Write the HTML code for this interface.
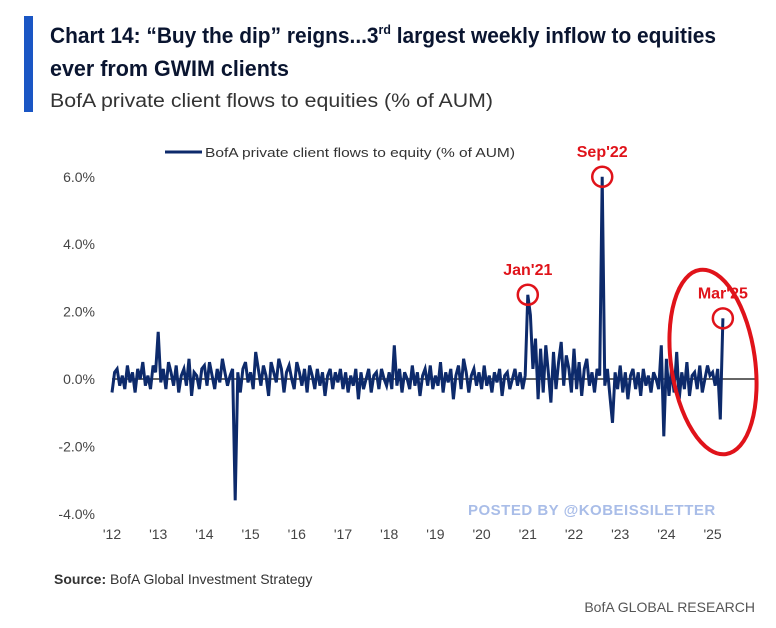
<!DOCTYPE html>
<html><head><meta charset="utf-8">
<style>
body{margin:0;background:#fff;width:776px;height:623px;overflow:hidden;font-family:"Liberation Sans",sans-serif}
</style></head><body>
<svg width="776" height="623" viewBox="0 0 776 623" xmlns="http://www.w3.org/2000/svg">
<rect x="24" y="16" width="9" height="96" fill="#1a56c4"/>
<text x="50" y="43" font-size="22" font-weight="bold" fill="#0a1530" textLength="666" lengthAdjust="spacingAndGlyphs">Chart 14: “Buy the dip” reigns...3<tspan font-size="13" dy="-9">rd</tspan><tspan dy="9"> largest weekly inflow to equities</tspan></text>
<text x="50" y="76" font-size="22" font-weight="bold" fill="#0a1530" textLength="239" lengthAdjust="spacingAndGlyphs">ever from GWIM clients</text>
<text x="50" y="107" font-size="19" fill="#333" textLength="443" lengthAdjust="spacingAndGlyphs">BofA private client flows to equities (% of AUM)</text>
<g>
<line x1="165" y1="152" x2="202" y2="152" stroke="#0d2a6b" stroke-width="3"/>
<text x="205" y="157" font-size="13" fill="#333" textLength="310" lengthAdjust="spacingAndGlyphs">BofA private client flows to equity (% of AUM)</text>
</g>
<g id="yaxis"></g>
<g id="xaxis"></g>
<g id="plot"></g>
<g id="ann"></g>
<text x="468" y="515" font-size="15" font-weight="bold" fill="#a9bde8" letter-spacing="0.5">POSTED BY @KOBEISSILETTER</text>
<text x="54" y="584" font-size="14" fill="#333"><tspan font-weight="bold">Source:</tspan> BofA Global Investment Strategy</text>
<text x="755" y="612" font-size="14" fill="#555" text-anchor="end">BofA GLOBAL RESEARCH</text>
</svg>
<script>
const yTicks=[6,4,2,0,-2,-4];
const yTickLabels=["6.0%","4.0%","2.0%","0.0%","-2.0%","-4.0%"];
const xYears=[2012,2013,2014,2015,2016,2017,2018,2019,2020,2021,2022,2023,2024,2025];
const xTickLabels=["'12","'13","'14","'15","'16","'17","'18","'19","'20","'21","'22","'23","'24","'25"];
const pointsPerYear=18;
const flows=[
-0.4,0.2,0.3,-0.2,0.1,-0.3,0.4,-0.1,0.2,-0.4,0.3,0.0,0.5,-0.2,0.1,-0.3,0.4,0.2,
1.4,-0.1,0.3,-0.3,0.5,0.2,-0.2,0.4,-0.4,0.1,0.3,-0.2,0.6,-0.5,0.2,0.1,-0.3,0.3,
0.4,-0.2,0.5,0.1,-0.3,0.3,-0.1,0.6,0.2,-0.2,0.1,0.3,-3.6,0.2,-0.4,0.3,0.5,-0.1,
0.2,-0.3,0.8,0.3,-0.2,0.4,0.1,-0.5,0.5,0.2,-0.1,0.6,0.3,-0.4,0.2,0.4,0.0,-0.3,
0.5,0.2,-0.2,0.3,-0.4,0.4,0.1,-0.3,0.3,-0.2,0.2,-0.5,0.1,0.3,-0.3,0.2,-0.1,0.3,
-0.3,0.2,-0.4,0.1,-0.2,0.3,-0.6,0.2,-0.3,0.0,0.3,-0.4,0.1,0.2,-0.3,0.3,0.0,-0.2,
0.2,-0.3,1.0,-0.2,0.3,-0.4,0.2,0.0,-0.3,0.4,-0.2,0.2,-0.5,0.1,0.3,-0.2,0.4,-0.3,
0.1,-0.2,0.5,-0.4,0.2,-0.1,0.3,-0.6,0.1,0.4,-0.3,0.6,0.2,-0.4,0.1,0.3,-0.2,0.2,
-0.3,0.4,-0.2,0.1,-0.4,0.2,-0.1,0.3,-0.5,0.1,0.2,-0.3,0.0,0.3,-0.2,0.2,-0.3,0.1,
2.5,1.9,0.3,1.2,-0.6,0.9,-0.4,1.0,0.2,-0.7,0.8,-0.3,0.5,1.1,-0.2,0.7,0.3,-0.4,
0.9,-0.3,0.5,-0.5,0.3,0.6,-0.2,0.2,-0.4,0.3,0.1,6.0,-0.2,0.3,-0.5,-1.3,0.2,-0.3,
0.4,-0.4,0.2,-0.6,0.1,0.3,-0.3,0.2,-0.5,0.3,-0.2,0.1,-0.4,0.2,0.0,-0.3,1.0,-1.7,
0.6,-0.5,0.3,-0.4,0.8,-0.6,0.2,-0.3,0.5,-0.5,0.1,0.2,-0.3,0.4,-0.4,0.0,0.4,0.1,
0.2,-0.2,0.3,-1.2,1.8
];
const NS="http://www.w3.org/2000/svg";
const X0=112,PX_YEAR=46.2,Y0=379,PX_PCT=33.7;
function xs(t){return X0+(t-2012)*PX_YEAR;}
function ys(v){return Y0-v*PX_PCT;}
function mk(tag,attrs,parent){const e=document.createElementNS(NS,tag);for(const k in attrs)e.setAttribute(k,attrs[k]);parent.appendChild(e);return e;}
function argmax(lo,hi){let b=lo;for(let i=lo;i<hi&&i<flows.length;i++)if(flows[i]>flows[b])b=i;return b;}
const ya=document.getElementById('yaxis');
yTicks.forEach((v,i)=>{const t=mk('text',{x:95,y:ys(v)+5,'font-size':14,fill:'#444','text-anchor':'end'},ya);t.textContent=yTickLabels[i];

});
const xa=document.getElementById('xaxis');
xYears.forEach((yr,i)=>{const t=mk('text',{x:xs(yr),y:539,'font-size':14,fill:'#444','text-anchor':'middle'},xa);t.textContent=xTickLabels[i];

});
const plot=document.getElementById('plot');
const zl=mk('line',{x1:xs(2012),x2:756,y1:ys(0),y2:ys(0),stroke:'#666','stroke-width':2},plot);


let d='';flows.forEach((v,i)=>{d+=(i?'L':'M')+xs(2012+i/pointsPerYear).toFixed(1)+','+ys(v).toFixed(1);});
const p=mk('path',{d:d,fill:'none',stroke:'#0d2a6b','stroke-width':3,'stroke-linejoin':'miter'},plot);


const ann=document.getElementById('ann');
function circ(i,label){const cx=xs(2012+i/pointsPerYear),cy=ys(flows[i]);
const c=mk('circle',{cx:cx,cy:cy,r:10,fill:'none',stroke:'#e0131a','stroke-width':2.5},ann);


const t=mk('text',{x:cx,y:cy-20,'font-size':16,'font-weight':'bold',fill:'#e0131a','text-anchor':'middle'},ann);t.textContent=label;

}
circ(argmax(162,170),"Jan'21");circ(argmax(180,198),"Sep'22");circ(flows.length-1,"Mar'25");
const el=mk('ellipse',{cx:713,cy:362,rx:42,ry:93,fill:'none',stroke:'#e0131a','stroke-width':4,transform:'rotate(-8 713 362)'},ann);


</script>
</body></html>
